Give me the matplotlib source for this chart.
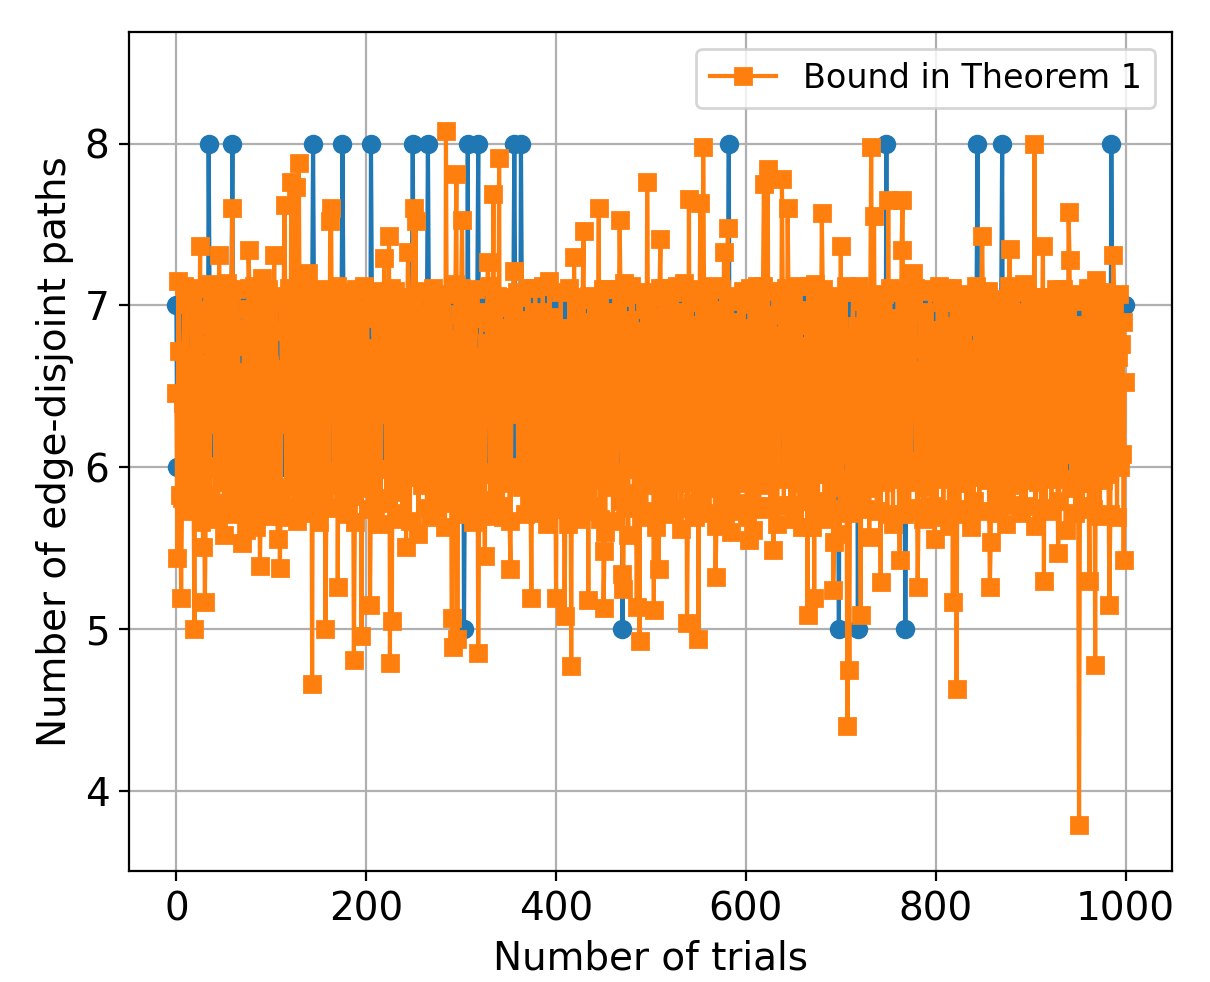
"""
Edge-disjoint paths per trial: actual count vs. the bound from Theorem 1.
"""

import matplotlib
matplotlib.use("Agg")
import matplotlib.pyplot as plt
import numpy as np

# ── Data ─────────────────────────────────────────────────────────────────────
# actual number of edge-disjoint paths, one digit per trial (groups of ten)
ACTUAL_DIGITS = (
    "7676777667 6776767667 7776766777 6776677677 6767767676 "
    "7766767776 6767767767 7667677676 7767667767 6777667676 "
    "7677676677 7676776767 6677767767 7676677767 7767676676 "
    "6777676767 7667767677 6767767667 7776767676 7667777676 "
    "7677667767 6776767677 7676677676 7767767667 6776776777 "
    "7767676677 6776777676 7676767767 6777667767 7676776676 "
    "7777676767 7677767776 7767677777 6777676777 7767777677 "
    "7777677767 7767776777 6777767767 7776777677 7677776777 "
    "7767777677 7776767777 6777677767 7777677776 7767776767 "
    "6776767677 7676776767 6767767676 7767676677 6776767767 "
    "7676677676 7767676767 6776767677 7667676776 7676767667 "
    "7767676776 6767767677 7676776767 6776767676 7767677676 "
    "6776767677 7676767767 6767677676 7767676767 6776777676 "
    "7676767667 7767677676 6776767767 7676776767 6767767677 "
    "7767677676 6776767767 7676767676 7767676677 6767767676 "
    "6776767767 7676677676 7767676767 6776767677 7667676776 "
    "7676767667 7767676776 6776767677 7676776767 6767767676 "
    "7767676677 6776767767 7676767676 7767677676 6776767767 "
    "7676776767 6767767677 7767676676 6776767767 7677777777 "
    "7767677776 7777676777 7767777677 6777677777 7777777777"
)
# trials where the actual count reached 8 or dropped to 5
ACTUAL_8_AT = [34, 59, 144, 175, 205, 249, 265, 307, 318, 356, 363,
               582, 748, 844, 870, 985]
ACTUAL_5_AT = [303, 470, 698, 718, 768]

# bound from Theorem 1, in hundredths
BOUND_BASE = [
    646, 544, 715, 672, 583, 683, 581, 640, 712, 573, 657, 701, 586, 668, 629, 588, 704, 645, 592, 709,
    637, 711, 577, 688, 653, 589, 566, 676, 708, 601, 649, 573, 697, 640, 713, 582, 664, 703, 627, 646,
    684, 578, 706, 642, 568, 705, 659, 591, 673, 700, 583, 667, 634, 714, 652, 574, 690, 600, 709, 625,
    571, 675, 648, 710, 589, 686, 577, 659, 633, 703, 582, 681, 649, 561, 698, 616, 670, 711, 572, 657,
    686, 588, 712, 640, 563, 668, 706, 628, 676, 577, 655, 705, 590, 691, 644, 581, 710, 637, 663, 570,
    652, 702, 577, 676, 627, 704, 575, 664, 646, 712, 581, 684, 635, 706, 593, 661, 569, 694, 641, 711,
    588, 679, 639, 708, 576, 655, 690, 567, 708, 631, 670, 579, 697, 648, 595, 715, 581, 673, 653, 692,
    572, 663, 706, 622, 684, 609, 701, 579, 657, 709, 566, 680, 632, 667, 710, 583, 648, 687, 575, 698,
    671, 598, 705, 574, 655, 694, 589, 681, 638, 712, 567, 664, 690, 593, 707, 641, 578, 676, 656, 626,
    699, 571, 661, 685, 582, 708, 634, 669, 566, 710, 650, 590, 683, 638, 697, 573, 667, 630, 712, 652,
    596, 692, 574, 662, 706, 587, 674, 644, 701, 576, 633, 707, 581, 659, 687, 565, 709, 640, 677, 592,
    660, 578, 698, 599, 671, 567, 711, 645, 686, 591, 709, 572, 667, 634, 703, 585, 657, 695, 568, 680,
    637, 705, 588, 681, 641, 705, 567, 670, 600, 699, 572, 654, 712, 594, 674, 559, 690, 643, 708, 589,
    676, 591, 668, 709, 575, 650, 694, 569, 680, 636, 711, 575, 665, 597, 700, 579, 655, 689, 578, 706,
    579, 687, 640, 563, 702, 662, 594, 707, 635, 679, 562, 696, 648, 590, 713, 642, 578, 671, 601, 695,
    711, 601, 673, 571, 659, 698, 581, 686, 643, 704, 592, 667, 566, 692, 635, 710, 588, 657, 682, 573,
    642, 696, 574, 668, 596, 707, 634, 677, 564, 712, 648, 580, 690, 640, 670, 570, 703, 597, 706, 590,
    683, 576, 705, 638, 569, 686, 653, 591, 699, 600, 674, 567, 709, 637, 664, 695, 579, 678, 644, 708,
    595, 671, 633, 705, 588, 656, 691, 571, 675, 641, 711, 577, 663, 593, 702, 632, 684, 572, 711, 608,
    663, 575, 696, 598, 683, 583, 712, 647, 589, 688, 565, 671, 639, 708, 596, 657, 693, 574, 674, 630,
    709, 640, 581, 682, 604, 708, 574, 668, 601, 697, 589, 658, 686, 565, 711, 645, 593, 676, 579, 701,
    597, 686, 651, 568, 704, 606, 673, 587, 705, 642, 577, 690, 600, 667, 591, 706, 637, 576, 683, 617,
    675, 573, 699, 601, 666, 693, 568, 657, 593, 710, 635, 677, 560, 710, 643, 588, 696, 654, 597, 685,
    567, 669, 640, 710, 590, 655, 682, 595, 705, 579, 663, 603, 714, 575, 674, 640, 558, 691, 648, 712,
    609, 707, 579, 673, 599, 700, 584, 670, 644, 684, 569, 708, 595, 661, 698, 573, 656, 677, 591, 706,
    693, 589, 659, 603, 705, 563, 676, 641, 594, 711, 649, 576, 687, 602, 711, 571, 665, 639, 702, 583,
    575, 683, 708, 573, 646, 691, 597, 712, 634, 663, 590, 696, 562, 680, 642, 714, 593, 658, 687, 575,
    665, 600, 672, 702, 578, 656, 569, 688, 591, 708, 639, 676, 596, 710, 577, 653, 703, 587, 661, 634,
    704, 572, 651, 588, 693, 641, 712, 597, 670, 564, 697, 593, 681, 636, 710, 580, 664, 685, 570, 657,
    600, 698, 579, 663, 560, 706, 637, 674, 650, 573, 690, 611, 578, 703, 595, 669, 633, 709, 590, 680,
    654, 569, 686, 609, 711, 592, 660, 561, 701, 601, 675, 576, 712, 649, 574, 691, 608, 594, 712, 667,
    687, 604, 589, 708, 598, 671, 576, 694, 651, 587, 709, 636, 682, 565, 661, 596, 704, 645, 571, 696,
    577, 680, 711, 593, 659, 699, 607, 577, 684, 641, 707, 568, 666, 599, 712, 590, 675, 640, 688, 563,
    673, 592, 662, 579, 697, 611, 712, 601, 654, 691, 563, 679, 594, 713, 609, 663, 572, 700, 596, 658,
    606, 710, 596, 689, 579, 660, 568, 706, 603, 677, 590, 701, 646, 571, 685, 608, 705, 588, 668, 559,
    700, 574, 653, 672, 608, 712, 593, 666, 572, 693, 641, 576, 681, 708, 600, 661, 579, 687, 643, 712,
    589, 662, 703, 595, 684, 574, 655, 706, 599, 672, 557, 695, 607, 664, 587, 710, 644, 680, 573, 691,
    667, 609, 575, 698, 646, 591, 707, 604, 685, 571, 670, 593, 711, 641, 660, 565, 692, 598, 676, 602,
    708, 593, 678, 612, 567, 701, 663, 571, 690, 648, 593, 708, 573, 673, 604, 697, 573, 659, 711, 591,
    602, 692, 575, 660, 709, 599, 676, 568, 696, 608, 685, 588, 663, 596, 710, 643, 576, 682, 606, 705,
    681, 569, 655, 712, 593, 671, 609, 702, 574, 660, 597, 711, 604, 687, 564, 674, 616, 711, 587, 664,
    608, 704, 595, 669, 602, 571, 695, 615, 679, 590, 707, 640, 574, 699, 660, 594, 690, 563, 673, 614,
    579, 673, 712, 599, 687, 612, 573, 661, 706, 566, 682, 606, 696, 592, 658, 709, 598, 665, 610, 686,
    696, 596, 661, 572, 700, 604, 681, 589, 704, 646, 578, 690, 609, 671, 565, 703, 595, 712, 648, 589,
    650, 709, 577, 682, 607, 592, 708, 641, 663, 696, 572, 679, 599, 713, 613, 576, 686, 660, 594, 702,
    592, 666, 692, 605, 712, 564, 672, 619, 591, 705, 608, 575, 688, 624, 599, 705, 574, 681, 614, 693,
    683, 602, 573, 701, 615, 684, 593, 710, 606, 670, 579, 694, 620, 593, 710, 608, 675, 561, 698, 623,
    605, 697, 657, 587, 679, 610, 707, 572, 661, 688, 599, 708, 590, 648, 686, 576, 703, 613, 672, 596,
    711, 590, 648, 676, 599, 700, 574, 687, 609, 706, 595, 665, 697, 570, 682, 614, 592, 708, 651, 607,
    653, 692, 596, 714, 571, 681, 611, 592, 701, 605, 685, 569, 668, 707, 600, 676, 608, 690, 622, 673,
]
# spikes that stand out of the band: trial index and bound value
BOUND_SPIKE_AT = [
    2, 25, 45, 59, 76, 90, 103, 114, 121, 126, 129, 139, 162, 163, 182, 219, 224, 244,
    250, 252, 284, 295, 301, 328, 334, 340, 356, 393, 419, 429, 445, 467, 496, 510,
    540, 552, 555, 577, 581, 619, 623, 638, 644, 680, 700, 732, 735, 750, 764, 765,
    776, 802, 849, 878, 904, 913, 940, 941, 969, 987, 999,
    1, 5, 19, 28, 30, 50, 69, 88, 107, 109, 143, 157, 170, 187, 195, 204, 225, 227,
    242, 290, 291, 296, 318, 325, 352, 374, 400, 409, 416, 434, 450, 451, 470, 471,
    485, 488, 503, 508, 538, 550, 568, 603, 629, 665, 672, 692, 693, 707, 709, 721,
    742, 762, 781, 799, 818, 822, 857, 858, 914, 929, 951, 962, 968, 983, 998,
]
BOUND_SPIKE_VAL = [
    7.15, 7.37, 7.31, 7.60, 7.34, 7.17, 7.31, 7.62, 7.76, 7.73, 7.88, 7.20, 7.52, 7.60, 7.06, 7.29, 7.43, 7.33,
    7.60, 7.52, 8.08, 7.81, 7.53, 7.27, 7.69, 7.91, 7.21, 7.15, 7.30, 7.46, 7.60, 7.53, 7.76, 7.41,
    7.66, 7.63, 7.98, 7.33, 7.48, 7.75, 7.84, 7.78, 7.60, 7.57, 7.37, 7.98, 7.55, 7.65, 7.34, 7.65,
    7.20, 7.08, 7.43, 7.35, 8.00, 7.37, 7.58, 7.28, 7.16, 7.31, 6.53,
    5.44, 5.19, 5.00, 5.51, 5.17, 5.58, 5.53, 5.39, 5.56, 5.38, 4.66, 5.00, 5.26, 4.81, 4.96, 5.15, 4.79, 5.05,
    5.51, 5.07, 4.89, 4.94, 4.85, 5.45, 5.37, 5.19, 5.19, 5.08, 4.77, 5.18, 5.13, 5.48, 5.34, 5.25,
    5.14, 4.93, 5.12, 5.37, 5.04, 4.94, 5.32, 5.55, 5.49, 5.09, 5.19, 5.24, 5.54, 4.40, 4.75, 5.09,
    5.29, 5.43, 5.26, 5.56, 5.17, 4.63, 5.26, 5.54, 5.30, 5.47, 3.79, 5.30, 4.78, 5.15, 5.43,
]

LEGEND_LABEL = "Bound in Theorem 1"
X_LABEL = "Number of trials"
Y_LABEL = "Number of edge-disjoint paths"


def main():
    actual = np.array([int(c) for c in ACTUAL_DIGITS if c.isdigit()], dtype=float)
    actual[ACTUAL_8_AT] = 8
    actual[ACTUAL_5_AT] = 5

    bound = np.array(BOUND_BASE, dtype=float) / 100.0
    bound[BOUND_SPIKE_AT] = BOUND_SPIKE_VAL

    fig = plt.figure(figsize=(6.05, 4.91), dpi=200)
    ax = fig.add_axes([0.1066, 0.1130, 0.862, 0.8544])

    ax.plot(np.arange(len(actual)), actual, marker="o", color="#1f77b4")
    ax.plot(np.arange(len(bound)), bound, marker="s", color="#ff7f0e",
            label=LEGEND_LABEL)

    ax.set_ylim(3.506, 8.689)
    ax.set_xlabel(X_LABEL, fontsize=14)
    ax.set_ylabel(Y_LABEL, fontsize=14)
    ax.tick_params(labelsize=14)
    ax.grid(True)
    ax.legend(fontsize=12, loc="upper right")

    fig.savefig("out.png", dpi=200)
    plt.close(fig)


if __name__ == "__main__":
    main()
